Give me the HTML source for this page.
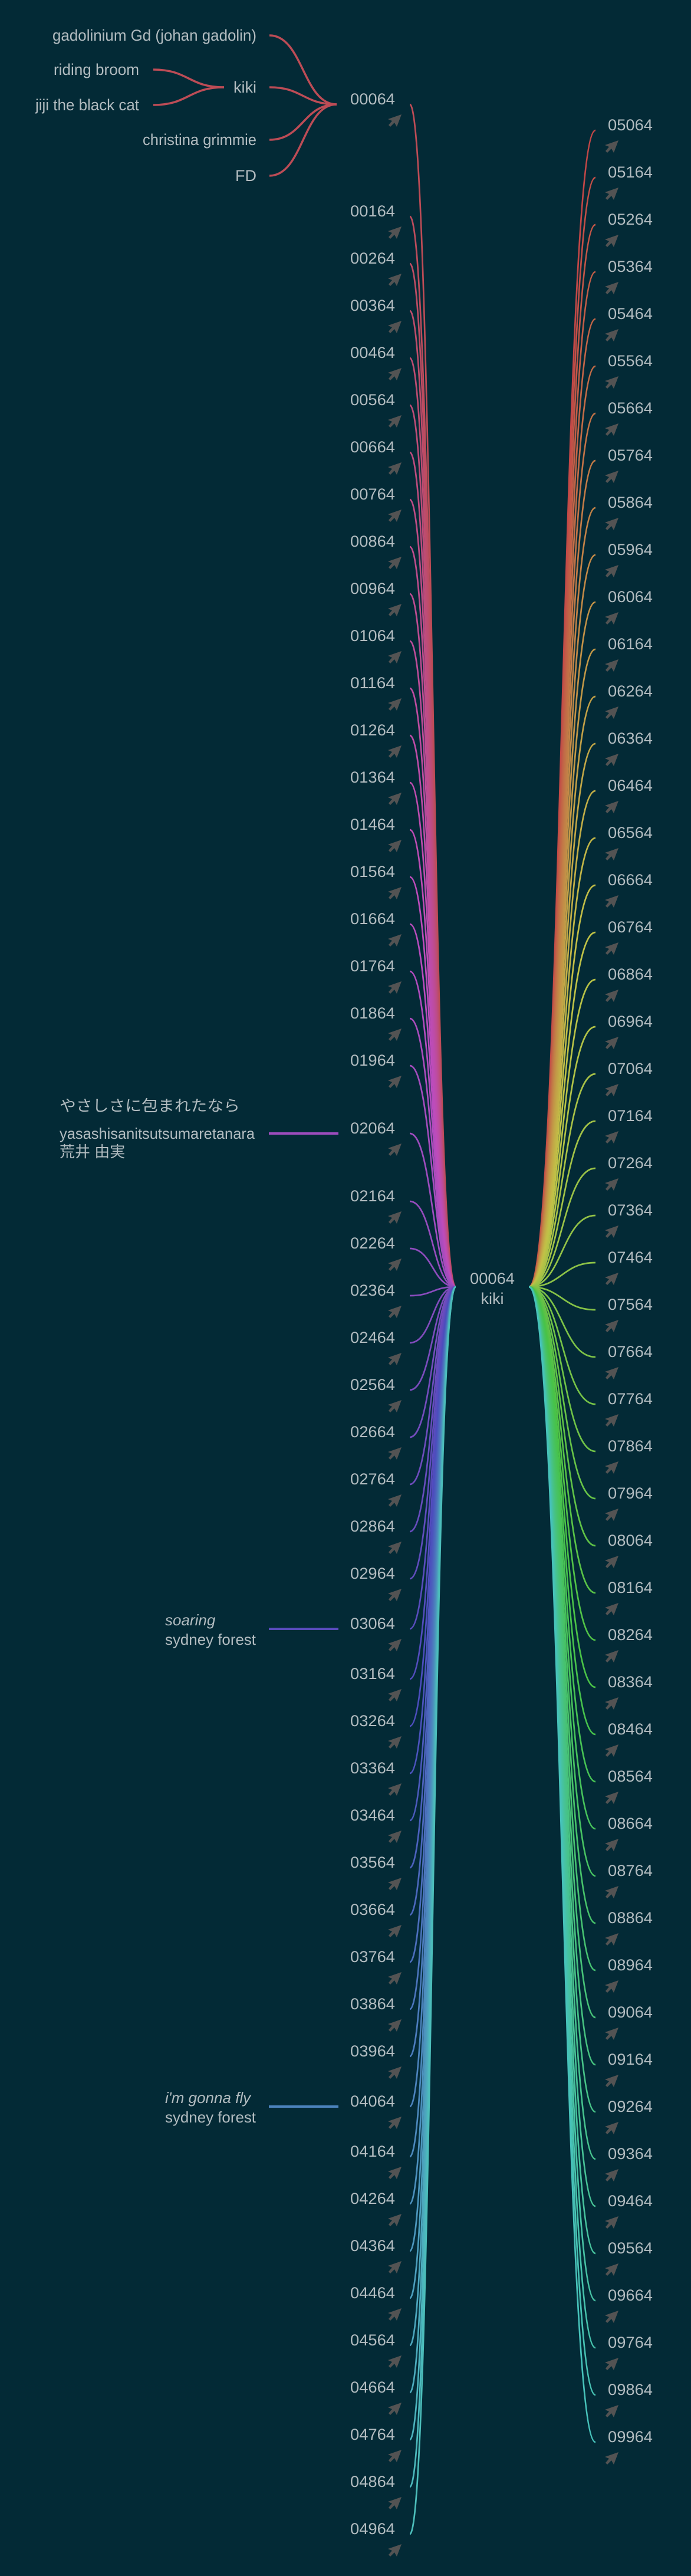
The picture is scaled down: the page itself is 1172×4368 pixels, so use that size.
<!DOCTYPE html>
<html><head><meta charset="utf-8"><title>kiki tree</title>
<style>
html,body{margin:0;padding:0;background:#032a36;}
svg{display:block;}
text{font-family:"Liberation Sans","Noto Sans CJK JP",sans-serif;fill:#b2bcc0;}
</style></head>
<body>
<svg id="chart" width="1172" height="4368" viewBox="0 0 1172 4368" xmlns="http://www.w3.org/2000/svg">
<rect width="1172" height="4368" fill="#032a36"/>
<g id="edges"></g>
<g id="nodes"></g>
</svg>
<script>
const leftIds = [];
for (let i = 0; i < 50; i++) leftIds.push(String(i * 100 + 64).padStart(5, '0'));
const rightIds = [];
for (let i = 50; i < 100; i++) rightIds.push(String(i * 100 + 64).padStart(5, '0'));
const topChildren = ["gadolinium Gd (johan gadolin)", "kiki", "christina grimmie", "FD"];
const kikiChildren = ["riding broom", "jiji the black cat"];
const specialLeft = [
  {idx: 20, lines: ["やさしさに包まれたなら", "yasashisanitsutsumaretanara", "荒井 由実"], italic: false},
  {idx: 30, lines: ["soaring", "sydney forest"], italic: true},
  {idx: 40, lines: ["i'm gonna fly", "sydney forest"], italic: true}
];

const NS = "http://www.w3.org/2000/svg";
const edges = document.getElementById('edges');
const nodes = document.getElementById('nodes');
const CX_L = 773, CX_R = 897, CY = 2182;

function leftY(i) {
  if (i === 0) return 168;
  let y = 358;
  for (let k = 2; k <= i; k++) {
    let g = 80;
    if (k === 20 || k === 21) g = 115;
    if (k === 30 || k === 31 || k === 40 || k === 41) g = 85;
    y += g;
  }
  return y;
}
function rightY(j) { return 212 + 80 * j; }
function leftColor(i) { return "hsl(" + (355 - 3.6 * i) + ",46%,52%)"; }
function rightColor(j) { return "hsl(" + ((3.6 * j) % 360) + ",50%,52%)"; }

function link(x0, y0, x1, y1) {
  const m = (x0 + x1) / 2;
  return "M" + x0 + "," + y0 + "C" + m + "," + y0 + " " + m + "," + y1 + " " + x1 + "," + y1;
}
function addPath(d, color, w, name) {
  const p = document.createElementNS(NS, 'path');
  p.setAttribute('d', d);
  p.setAttribute('fill', 'none');
  p.setAttribute('stroke', color);
  p.setAttribute('stroke-width', w);
  
  
  edges.appendChild(p);
}
function addText(str, x, y, anchor, name, opts) {
  const t = document.createElementNS(NS, 'text');
  t.setAttribute('x', x);
  t.setAttribute('y', y);
  t.setAttribute('text-anchor', anchor);
  t.setAttribute('dominant-baseline', 'central');
  t.setAttribute('font-size', (opts && opts.size) || 27);
  if (opts && opts.italic) t.setAttribute('font-style', 'italic');
  if (opts && opts.fill) t.setAttribute('fill', opts.fill);
  if (opts && opts.len) { t.setAttribute('textLength', opts.len); t.setAttribute('lengthAdjust', 'spacingAndGlyphs'); }
  t.textContent = str;
  
  
  nodes.appendChild(t);
}
function addArrow(cx, cy, name) {
  const p = document.createElementNS(NS, 'path');
  const pts = [[12,-10],[-11,-2],[-4,1],[-10,8],[-7,11],[0,4],[4,11]];
  p.setAttribute('d', "M" + pts.map(q => (cx + q[0]) + "," + (cy + q[1])).join("L") + "Z");
  p.setAttribute('fill', '#535353');
  
  
  nodes.appendChild(p);
}

leftIds.forEach((id, i) => {
  const y = leftY(i);
  addPath(link(695, y + 9, CX_L, CY), leftColor(i), 2.7, 'edge-' + id);
  addText(id, 670, y, 'end', 'node-label-' + id, {len: 76});
  addArrow(669, y + 36, 'arrow-' + id);
});
rightIds.forEach((id, j) => {
  const y = rightY(j);
  addPath(link(CX_R, CY, 1010, y + 9), rightColor(j), 2.7, 'edge-' + id);
  addText(id, 1031, y, 'start', 'node-label-' + id, {len: 76});
  addArrow(1037, y + 36, 'arrow-' + id);
});
addText("00064", 835, 2168, 'middle', 'center-id', {len: 76});
addText("kiki", 835, 2202, 'middle', 'center-name');

const red = leftColor(0);
const topY = [60, 148, 237, 298];
topChildren.forEach((s, k) => {
  addPath(link(457, topY[k], 571, 177), red, 3.5, 'edge-top-' + k);
  const lens = [346, 0, 193, 0];
  addText(s, 435, topY[k], 'end', 'top-child-' + k, lens[k] ? {len: lens[k]} : null);
});
const kikiY = [118, 178];
kikiChildren.forEach((s, k) => {
  addPath(link(260, kikiY[k], 380, 148), red, 3.5, 'edge-kiki-' + k);
  const lens = [145, 176];
  addText(s, 236, kikiY[k], 'end', 'kiki-child-' + k, {len: lens[k]});
});

specialLeft.forEach(sp => {
  const y = leftY(sp.idx);
  const ly = y + 9;
  addPath("M456," + ly + "L574," + ly, leftColor(sp.idx), 4, 'edge-song-' + sp.idx);
  if (sp.lines.length === 3) {
    addText(sp.lines[0], 101, ly - 47, 'start', 'song-title-jp', {size: 26, fill: '#d6dcde', len: 306});
    addText(sp.lines[1], 101, ly, 'start', 'song-title-romaji', {size: 26, len: 331});
    addText(sp.lines[2], 101, ly + 31, 'start', 'song-artist', {size: 26, fill: '#d6dcde'});
  } else {
    addText(sp.lines[0], 280, ly - 15, 'start', 'song-title-' + sp.idx, {size: 26, italic: true, fill: '#d6dcde'});
    addText(sp.lines[1], 280, ly + 18, 'start', 'song-artist-' + sp.idx, {size: 26, len: 154});
  }
});
</script>
</body></html>
